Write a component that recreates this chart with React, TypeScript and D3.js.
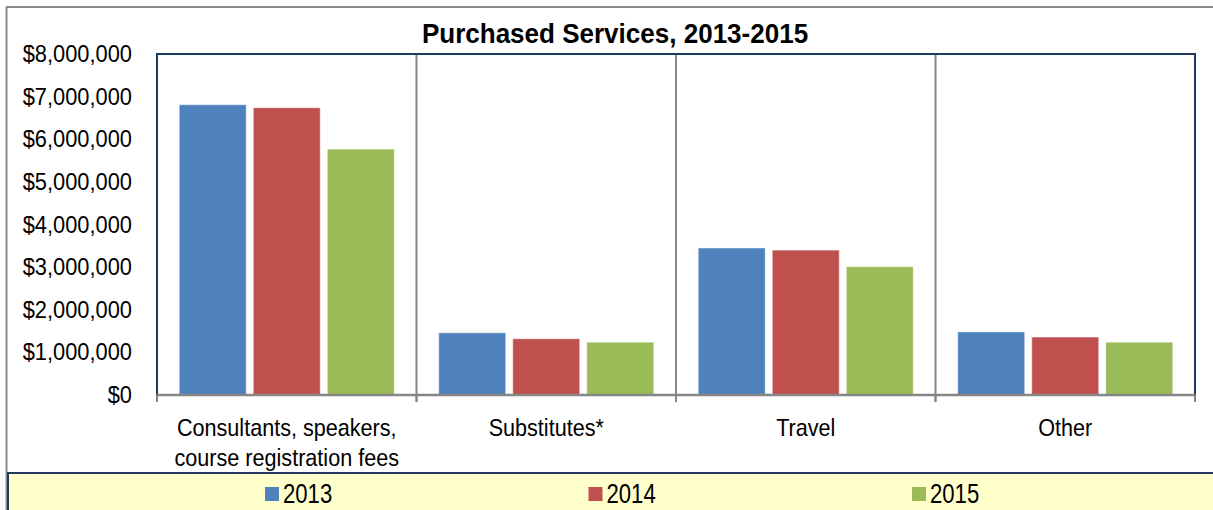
import React from 'react';
import { scaleBand, scaleLinear, scalePoint, format } from 'd3';

const categories = [
  ['Consultants, speakers,', 'course registration fees'],
  ['Substitutes*'],
  ['Travel'],
  ['Other'],
];
const years = ['2013', '2014', '2015'];
const values2013 = [6810000, 1460000, 3450000, 1480000];
const values2014 = [6740000, 1320000, 3400000, 1360000];
const values2015 = [5770000, 1240000, 3010000, 1240000];
const yTickValues = [0, 1000000, 2000000, 3000000, 4000000, 5000000, 6000000, 7000000, 8000000];

const seriesValues = [values2013, values2014, values2015];
const COLORS = ['#4F81BD', '#C0504D', '#9BBB59'];

const W = 1213;
const H = 510;
const plot = { left: 157, top: 54, right: 1195, bottom: 395 };
const FONT = 'Arial, "Liberation Sans", sans-serif';

// text squeezed horizontally like the source image
const SqText = ({ x, y, sx, size, anchor = 'start', weight = 'normal', children }: any) => (
  <g transform={`translate(${x},${y}) scale(${sx},1)`}>
    <text fontFamily={FONT} fontSize={size} fontWeight={weight} textAnchor={anchor} fill="#000">
      {children}
    </text>
  </g>
);

const App = () => {
  const keys = categories.map((c, i) => String(i));
  const x0 = scaleBand().domain(keys).range([plot.left, plot.right]).padding(0);
  const x1 = scaleBand()
    .domain(years)
    .range([0, x0.bandwidth()])
    .paddingInner(0.095)
    .paddingOuter(0.3);
  const y = scaleLinear().domain([0, 8000000]).range([plot.bottom, plot.top]);
  const money = (v: number) => '$' + format(',')(v);
  const legendX = scalePoint().domain(years).range([265, 912]);

  const bounds = [...keys.map(k => x0(k) as number), plot.right];

  return (
    <svg width={W} height={H} style={{ position: 'absolute', left: 0, top: 0, background: '#fff' }}>
      {/* outer chart frame */}
      <line x1={6.5} y1={7} x2={6.5} y2={H} stroke="#8C8C8C" strokeWidth={2} />
      <line x1={6} y1={7} x2={W} y2={7} stroke="#8C8C8C" strokeWidth={2} />

      <SqText x={615} y={43} sx={0.93} size={28} anchor="middle" weight="bold">
        Purchased Services, 2013-2015
      </SqText>

      {/* y axis labels */}
      {yTickValues.map(t => (
        <SqText key={t} x={132} y={y(t) + 8} sx={0.95} size={23} anchor="end">
          {money(t)}
        </SqText>
      ))}

      {/* bars */}
      {keys.map((k, ci) => (
        <g key={k} transform={`translate(${x0(k)},0)`}>
          {years.map((yr, si) => {
            const v = seriesValues[si][ci];
            return (
              <rect
                key={yr}
                x={x1(yr)}
                y={y(v)}
                width={x1.bandwidth()}
                height={plot.bottom - y(v)}
                fill={COLORS[si]}
                stroke="#ffffff"
                strokeOpacity={0.5}
                strokeWidth={1}
              />
            );
          })}
        </g>
      ))}

      {/* category dividers */}
      {bounds.slice(1, -1).map((b, i) => (
        <line key={i} x1={b} y1={plot.top} x2={b} y2={plot.bottom + 7} stroke="#868686" strokeWidth={2} />
      ))}
      {/* plot border */}
      <rect
        x={plot.left}
        y={plot.top}
        width={plot.right - plot.left}
        height={plot.bottom - plot.top}
        fill="none"
        stroke="#1F3A5F"
        strokeWidth={2}
      />
      {/* x axis */}
      <line x1={plot.left} y1={plot.bottom} x2={plot.right} y2={plot.bottom} stroke="#868686" strokeWidth={2.5} />
      {bounds.map((b, i) => (
        <line key={i} x1={b} y1={plot.bottom} x2={b} y2={plot.bottom + 7} stroke="#868686" strokeWidth={2} />
      ))}

      {/* category labels */}
      {keys.map((k, ci) =>
        categories[ci].map((line, li) => (
          <SqText
            key={k + li}
            x={(x0(k) as number) + x0.bandwidth() / 2}
            y={436 + li * 30}
            sx={0.9}
            size={24}
            anchor="middle"
          >
            {line}
          </SqText>
        ))
      )}

      {/* legend */}
      <rect x={8} y={473} width={W} height={60} fill="#FFFFCC" stroke="#1F3A5F" strokeWidth={2} />
      {years.map((yr, si) => (
        <g key={yr}>
          <rect x={legendX(yr)} y={487} width={14} height={14} fill={COLORS[si]} />
          <SqText x={(legendX(yr) as number) + 18} y={503} sx={0.79} size={28}>
            {yr}
          </SqText>
        </g>
      ))}
    </svg>
  );
};

export default App;
